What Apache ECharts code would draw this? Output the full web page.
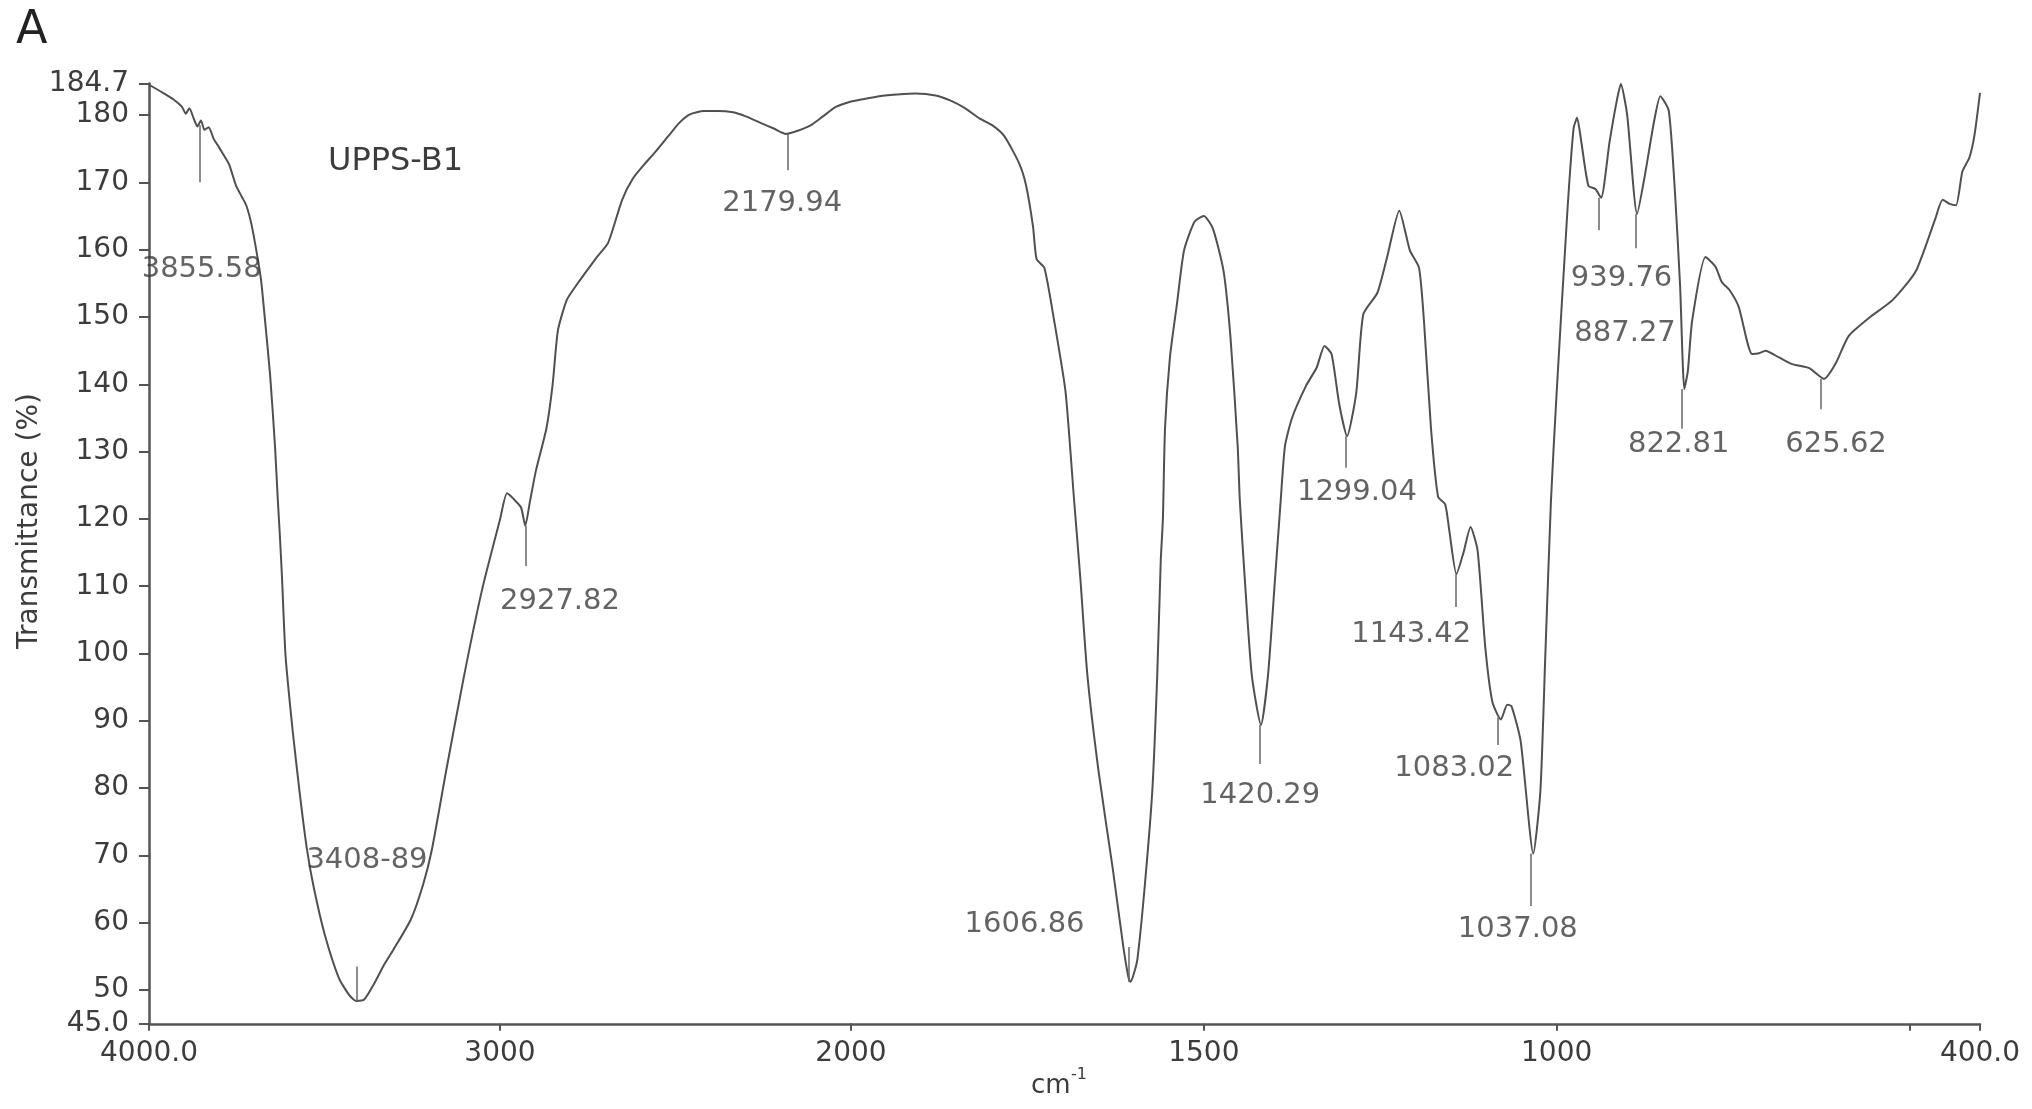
<!DOCTYPE html>
<html><head><meta charset="utf-8">
<script src="https://cdn.jsdelivr.net/npm/echarts@6/dist/echarts.min.js"></script>
<style>html,body{margin:0;padding:0;background:#fff}#c{width:2032px;height:1109px}</style>
</head><body><div id="c"></div>
<script>
// ---- data (wavenumber in cm-1, transmittance in %) ----
const wavenumber = [4000,3960,3930,3906,3895,3885,3872,3862,3852,3842,3830,3816,3804,3790,3772,3752,3735,3723,3710,3698,3681,3672,3655,3641,3633,3627,3621,3611,3590,3570,3550,3530,3499,3459,3430,3410,3387,3356,3330,3305,3254,3219,3194,3154,3102,3051,3000,2980,2960,2940,2928,2915,2898,2868,2850,2835,2810,2784,2724,2692,2652,2621,2590,2561,2520,2490,2459,2419,2380,2336,2300,2256,2220,2185,2150,2114,2080,2043,2000,1960,1930,1909,1880,1858,1838,1818,1800,1783,1762,1752,1742,1737,1726,1712,1696,1684,1675,1665,1649,1629,1614,1607,1604,1599,1594,1584,1573,1566,1561,1558,1555,1548,1538,1528,1513,1500,1487,1472,1462,1452,1449,1442,1432,1419,1409,1399,1391,1385,1375,1355,1340,1329,1319,1308,1297,1284,1274,1254,1240,1223,1208,1195,1188,1178,1168,1158,1152,1142,1132,1122,1112,1101,1091,1079,1070,1064,1051,1033,1023,1016,1008,1000,985,976,971,965,955,945,937,925,915,909,900,886,875,862,853,841,832,825,819,814,808,789,775,766,755,742,723,713,704,685,666,642,621,605,586,557,524,491,463,453,443,434,425,415,408,400];
const transmittance = [184.5,183.3,182.3,181.2,180.2,181.0,179.4,178.3,179.2,177.8,178.2,176.5,175.5,174.3,172.7,169.5,167.8,166.6,164.2,161.0,155.6,150.9,141.4,130.8,122.8,117.4,111.2,99.7,88.2,79.0,70.9,65.1,58.2,51.8,49.3,48.4,48.6,51.2,53.8,55.9,60.5,65.7,70.9,82.4,96.8,109.5,119.9,123.8,122.9,121.7,119.0,122.5,127.1,133.4,140.0,148.0,152.5,154.6,158.9,161.0,167.4,170.6,172.6,174.3,176.9,178.8,180.1,180.6,180.6,180.4,179.8,178.8,178.0,177.2,177.7,178.5,179.8,181.2,182.0,182.8,183.1,183.2,182.9,182.1,181.0,179.5,178.5,176.9,172.9,169.6,163.4,158.6,157.3,149.4,138.9,123.0,111.2,96.8,82.4,68.0,56.4,52.0,51.2,52.5,54.7,65.1,79.6,96.8,113.9,120.0,133.4,144.0,152.0,159.9,164.2,165.0,163.1,156.8,146.7,130.8,122.8,111.2,96.8,89.4,96.8,111.2,122.8,130.8,135.0,139.8,142.5,145.7,144.5,137.0,132.3,138.7,150.4,153.6,159.0,165.8,159.9,157.3,149.4,133.4,123.3,122.2,118.2,111.8,115.0,118.8,115.3,100.8,92.8,90.2,92.4,92.2,87.0,70.3,79.6,99.8,122.8,138.7,165.3,178.0,179.6,176.0,169.5,169.0,167.7,176.0,182.0,184.6,180.0,165.3,171.0,179.0,182.8,180.6,168.0,154.6,139.3,142.0,149.4,158.9,157.5,155.2,154.0,151.5,144.5,144.6,145.0,144.0,143.0,142.4,140.8,143.0,147.2,149.9,152.5,156.8,164.7,167.4,166.8,166.6,171.6,173.7,176.9,183.3];

// peak annotations
const peakWn    = [3855.58,3408.89,2927.82,2179.94,1606.86,1420.29,1299.04,1143.42,1083.02,1037.08,939.76,887.27,822.81,625.62];
const peakText  = ['3855.58','3408-89','2927.82','2179.94','1606.86','1420.29','1299.04','1143.42','1083.02','1037.08','939.76','887.27','822.81','625.62'];
const peakFrom  = [178.5,48.3,119.0,177.3,51.2,89.4,132.3,111.8,90.5,70.3,167.7,165.3,139.3,140.8];
const peakTo    = [170.0,53.5,113.0,171.8,56.4,83.6,127.6,106.9,86.4,62.5,162.9,160.2,133.4,136.3];
const labelWn   = [3850,3379,2829,2196,1754,1420,1283,1206,1145,1055,908,903,827,604];
const labelT    = [157.0,69.2,107.8,166.8,59.7,78.9,123.9,102.9,83.0,59.0,155.7,147.5,131.0,131.0];

// axis ticks
const xTicksHigh  = [4000,3000,2000];
const xLabelsHigh = [4000,3000,2000];
const xTicksLow   = [2000,1500,1000,500,400];
const xLabelsLow  = [1500,1000,400];
const yTicks      = [45,50,60,70,80,90,100,110,120,130,140,150,160,170,180,184.7];
const yMin = 45, yMax = 184.7;

// ---- build ----
const FONT = 'DejaVu Sans';
const TXT = '#3c3c3c';
const AX = '#555555';
const CURVE = '#505050';

const pts = wavenumber.map((w, i) => [w, transmittance[i]]);
const hiPts = pts.filter(p => p[0] >= 2000);
const loPts = pts.filter(p => p[0] <= 2000);

function markLines(sel) {
  const d = [];
  peakWn.forEach((w, i) => { if (sel(w)) d.push([{coord: [w, peakFrom[i]]}, {coord: [w, peakTo[i]]}]); });
  return d;
}
function labelPts(sel) {
  const d = [];
  labelWn.forEach((w, i) => { if (sel(w)) d.push([w, labelT[i], peakText[i]]); });
  return d;
}
const fmtX = v => v === 4000 ? '4000.0' : (v === 400 ? '400.0' : String(v));
const fmtY = v => v === 45 ? '45.0' : (Math.abs(v - 184.7) < 1e-6 ? '184.7' : String(v));

function xAxisCfg(gi, min, max, ticks, labels) {
  return {
    gridIndex: gi, type: 'value', min: min, max: max, inverse: true,
    axisLine: {show: true, onZero: false, lineStyle: {color: AX, width: 2.5}},
    axisTick: {show: true, length: 7, customValues: ticks, lineStyle: {color: AX, width: 2}},
    axisLabel: {show: true, customValues: labels, formatter: fmtX, margin: 16, fontSize: 28, color: TXT, fontFamily: FONT},
    splitLine: {show: false}
  };
}
const markLineStyle = {silent: true, symbol: ['none','none'], label: {show: false}, lineStyle: {color: '#666', width: 1.5, type: 'solid'}, emphasis: {disabled: true}, animation: false};
const labelSeries = (xi, data) => ({
  type: 'scatter', xAxisIndex: xi, yAxisIndex: xi, data: data, symbolSize: 0, silent: true, z: 5,
  label: {show: true, position: 'inside', formatter: p => p.data[2], fontSize: 29, color: TXT, fontFamily: FONT}
});
const lineSeries = (xi, data, sel) => ({
  type: 'line', xAxisIndex: xi, yAxisIndex: xi, data: data, showSymbol: false, symbol: 'none',
  smooth: 0.2,
  lineStyle: {color: CURVE, width: 2}, markLine: Object.assign({data: markLines(sel)}, markLineStyle)
});

const option = {
  animation: false,
  backgroundColor: '#ffffff',
  grid: [
    {left: 149, top: 83.4, width: 702, height: 940.4},
    {left: 851, top: 83.4, width: 1129, height: 940.4}
  ],
  xAxis: [
    xAxisCfg(0, 2000, 4000, xTicksHigh, xLabelsHigh),
    xAxisCfg(1, 400, 2000, xTicksLow, xLabelsLow)
  ],
  yAxis: [
    {gridIndex: 0, type: 'value', min: yMin, max: yMax,
     axisLine: {show: true, lineStyle: {color: AX, width: 2.5}},
     axisTick: {show: true, length: 10, customValues: yTicks, lineStyle: {color: AX, width: 2}},
     axisLabel: {show: true, customValues: yTicks, formatter: fmtY, margin: 20, fontSize: 28, color: TXT, fontFamily: FONT},
     splitLine: {show: false}},
    {gridIndex: 1, type: 'value', min: yMin, max: yMax, show: false, splitLine: {show: false}}
  ],
  series: [
    lineSeries(0, hiPts, w => w >= 2000),
    lineSeries(1, loPts, w => w < 2000),
    labelSeries(0, labelPts(w => w >= 2000)),
    labelSeries(1, labelPts(w => w < 2000))
  ],
  graphic: [
    {type: 'text', x: 16, y: 31, style: {text: 'A', font: '46px "DejaVu Sans"', fill: '#222', textAlign: 'left', textVerticalAlign: 'middle'}},
    {type: 'text', x: 328, y: 162, style: {text: 'UPPS-B1', font: '32px "DejaVu Sans"', fill: TXT, textAlign: 'left', textVerticalAlign: 'middle'}},
    {type: 'text', x: 30, y: 521, rotation: Math.PI / 2, style: {text: 'Transmittance (%)', font: '28px "DejaVu Sans"', fill: TXT, textAlign: 'center', textVerticalAlign: 'middle'}},
    {type: 'text', x: 1031, y: 1086, style: {text: 'cm', font: '26px "DejaVu Sans"', fill: TXT, textAlign: 'left', textVerticalAlign: 'middle'}},
    {type: 'text', x: 1071, y: 1075, style: {text: '-1', font: '16px "DejaVu Sans"', fill: TXT, textAlign: 'left', textVerticalAlign: 'middle'}}
  ]
};
const chart = echarts.init(document.getElementById('c'), null, {renderer: 'canvas'});
chart.setOption(option);
</script></body></html>
